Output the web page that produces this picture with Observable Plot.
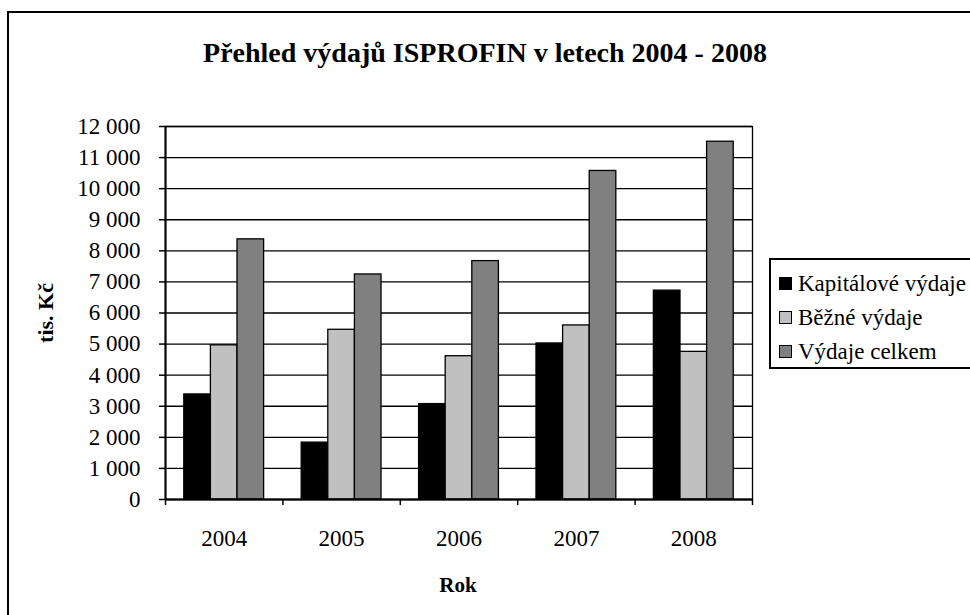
<!DOCTYPE html>
<html>
<head>
<meta charset="utf-8">
<script src="https://cdn.jsdelivr.net/npm/d3@7"></script>
<script src="https://cdn.jsdelivr.net/npm/@observablehq/plot@0.6"></script>
<style>
  html, body { margin: 0; padding: 0; background: #fff; overflow: hidden; }
  #wrap { position: relative; width: 970px; height: 615px; overflow: hidden; color: #000; }
  #wrap, #wrap * { font-family: "Liberation Serif", "Times New Roman", serif !important; }
  #outer { position: absolute; left: 7px; top: 11px; width: 1000px; height: 700px; border: 2px solid #000; box-sizing: border-box; }
  #chart { position: absolute; left: 0; top: 0; }
  #title { position: absolute; left: 0; width: 970px; top: 37px; text-align: center; font-weight: bold; font-size: 28px; white-space: nowrap; }
  #ylabel { position: absolute; left: 46px; top: 313px; transform: translate(-50%, -50%) rotate(-90deg); font-weight: bold; font-size: 22px; white-space: nowrap; }
  #xlabel { position: absolute; left: 458px; top: 585px; transform: translate(-50%, -50%); font-weight: bold; font-size: 21px; }
  #legend { position: absolute; left: 769px; top: 258px; width: 260px; height: 111px; border: 2px solid #000; box-sizing: border-box; }
  .item { position: absolute; left: 8px; font-size: 23px; white-space: nowrap; line-height: 1; }
  .sw { display: inline-block; width: 11px; height: 11px; border: 1px solid #000; margin-right: 6px; vertical-align: 1px; }
</style>
</head>
<body>
<div id="wrap">
  <div id="outer"></div>
  <div id="chart"></div>
  <div id="title">Přehled výdajů ISPROFIN v letech 2004 - 2008</div>
  <div id="ylabel">tis. Kč</div>
  <div id="xlabel">Rok</div>
  <div id="legend"></div>
</div>
<script>
// ---- data ----
const years = [2004, 2005, 2006, 2007, 2008];
const seriesNames = ["Kapitálové výdaje", "Běžné výdaje", "Výdaje celkem"];
const kapitalove = [3380, 1830, 3070, 5020, 6720];
const bezne = [4960, 5460, 4610, 5600, 4750];
const celkem = [8370, 7240, 7670, 10570, 11510];
const seriesColors = ["#000000", "#c0c0c0", "#808080"];
const yTicks = [0, 1000, 2000, 3000, 4000, 5000, 6000, 7000, 8000, 9000, 10000, 11000, 12000];

// ---- table ----
const seriesValues = [kapitalove, bezne, celkem];
const groupSpan = 0.68; // fraction of a year slot occupied by the 3 bars
const bw = groupSpan / seriesNames.length;
const table = [];
years.forEach((yr, i) => {
  seriesNames.forEach((s, j) => {
    table.push({
      year: yr,
      series: s,
      value: seriesValues[j][i],
      x1: yr - groupSpan / 2 + j * bw,
      x2: yr - groupSpan / 2 + (j + 1) * bw
    });
  });
});
const boundaries = years.map(y => y - 0.5).concat([years[years.length - 1] + 0.5]);
const fmt = d => d3.format(",")(d).replace(/,/g, "\u00a0");

const plot = Plot.plot({
  width: 970,
  height: 615,
  marginLeft: 165,
  marginRight: 218,
  marginTop: 126,
  marginBottom: 116,
  style: { fontFamily: "'Liberation Serif', 'Times New Roman', serif", fontSize: "23px", color: "#000", background: "transparent" },
  x: { type: "linear", domain: [boundaries[0], boundaries[boundaries.length - 1]] },
  y: { domain: [0, 12000] },
  color: { domain: seriesNames, range: seriesColors },
  marks: [
    Plot.gridY(yTicks, { stroke: "#000", strokeOpacity: 1, strokeWidth: 1.3 }),
    Plot.rectY(table, { x1: "x1", x2: "x2", y: "value", fill: "series", stroke: "#000", strokeWidth: 1.3 }),
    Plot.frame({ stroke: "#000", strokeWidth: 1.3 }),
    Plot.ruleY([0], { stroke: "#000", strokeWidth: 2 }),
    Plot.ruleX([boundaries[0]], { stroke: "#000", strokeWidth: 2 }),
    Plot.axisY({ ticks: yTicks, tickFormat: fmt, tickSize: 6, tickPadding: 19, label: null, stroke: "#000", strokeWidth: 1.5 }),
    Plot.axisX({ ticks: boundaries, tickFormat: () => "", tickSize: 6, label: null, stroke: "#000", strokeWidth: 1.5 }),
    Plot.axisX({ ticks: years, tickFormat: d => String(d), tickSize: 0, tickPadding: 30, label: null })
  ]
});
document.getElementById("chart").appendChild(plot);

// ---- legend ----
const legend = document.getElementById("legend");
const legendTops = [12, 46, 80];
seriesNames.forEach((s, j) => {
  const it = document.createElement("div");
  it.className = "item";
  it.style.top = legendTops[j] + "px";
  const sw = document.createElement("span");
  sw.className = "sw";
  sw.style.background = seriesColors[j];
  it.appendChild(sw);
  it.appendChild(document.createTextNode(s));
  legend.appendChild(it);
});
</script>
</body>
</html>
